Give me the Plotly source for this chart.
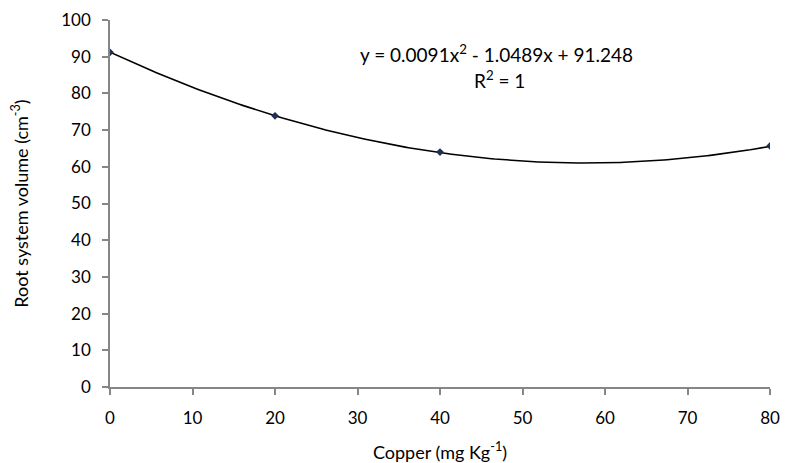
import numpy as np
import plotly.graph_objects as go

copper = [0, 20, 40, 80]
root_volume = [91.2, 73.9, 64.0, 65.7]
# trendline coefficients as printed on the chart (a, b, c)
trend_coef = [0.0091, -1.0489, 91.248]
x_ticks = [0, 10, 20, 30, 40, 50, 60, 70, 80]
y_ticks = [0, 10, 20, 30, 40, 50, 60, 70, 80, 90, 100]

xs = np.linspace(min(copper), max(copper), 200)
ys = trend_coef[0] * xs**2 + trend_coef[1] * xs + trend_coef[2]

fig = go.Figure()
fig.add_trace(go.Scatter(x=xs, y=ys, mode="lines",
                         line=dict(color="black", width=1.6),
                         hoverinfo="skip", showlegend=False))
fig.add_trace(go.Scatter(x=copper, y=root_volume, mode="markers",
                         marker=dict(symbol="diamond", size=6, color="#1f2f55"),
                         showlegend=False))

font = "Lato, 'Open Sans', sans-serif"
axis_common = dict(showline=True, linecolor="#868686", linewidth=1.5,
                   ticks="outside", tickcolor="#868686", ticklen=6, tickwidth=1.5,
                   showgrid=False, zeroline=False, automargin=False,
                   tickfont=dict(family=font, size=17, color="black"))

fig.update_layout(
    width=788, height=463,
    margin=dict(l=110, r=18, t=20, b=76),
    paper_bgcolor="white", plot_bgcolor="white",
    xaxis=dict(range=[0, 80], tickvals=x_ticks, ticklabelstandoff=9, **axis_common,
               title=dict(text="Copper (mg Kg<sup>-1</sup>)",
                          font=dict(family=font, size=18, color="black"), standoff=19)),
    yaxis=dict(range=[0, 100], tickvals=y_ticks, ticklabelstandoff=8, **axis_common,
               title=dict(text="Root system volume (cm<sup>-3</sup>)",
                          font=dict(family=font, size=18, color="black"), standoff=28)),
    annotations=[
        dict(x=0.585, y=0.91, xref="paper", yref="paper", showarrow=False,
             xanchor="center", yanchor="middle",
             text="y = 0.0091x<sup>2</sup> - 1.0489x + 91.248",
             font=dict(family=font, size=19, color="black")),
        dict(x=0.59, y=0.837, xref="paper", yref="paper", showarrow=False,
             xanchor="center", yanchor="middle",
             text="R<sup>2</sup> = 1",
             font=dict(family=font, size=19, color="black")),
    ],
)
fig.write_html("out.html", config={"displayModeBar": False},
               post_script="document.body.style.margin='0';")
